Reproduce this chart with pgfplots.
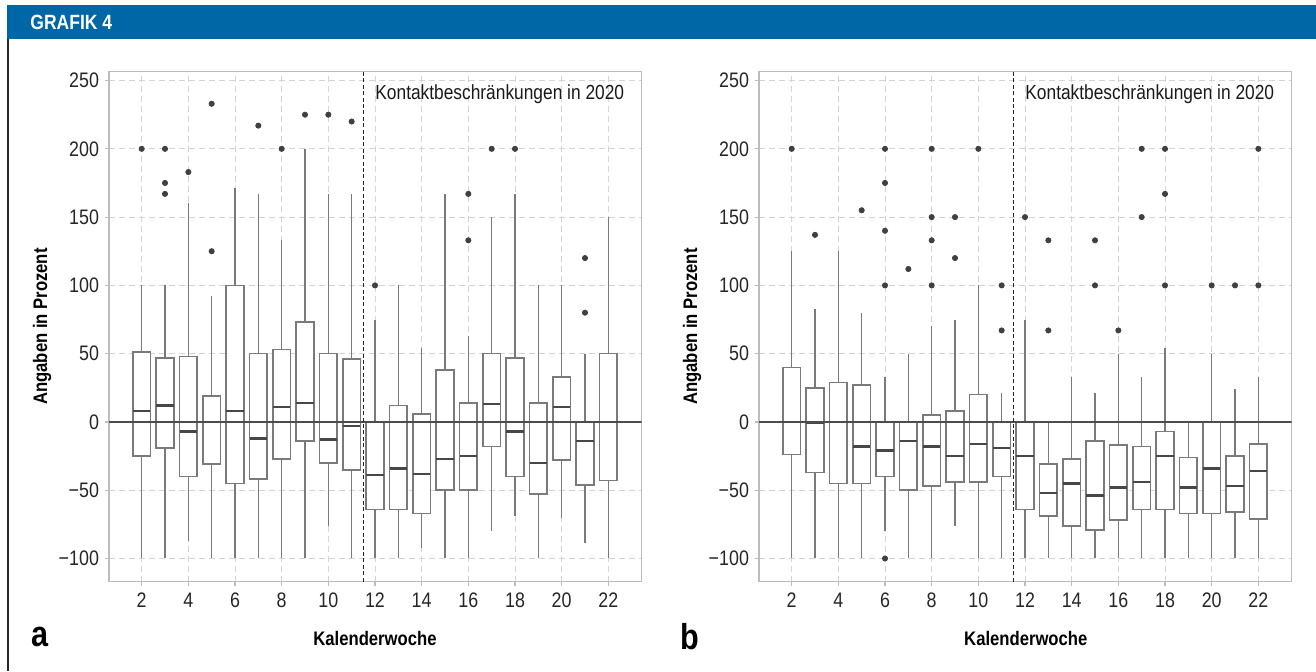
\documentclass[border=0pt]{standalone}
\usepackage{fontspec}
\setmainfont{Liberation Sans}[FakeStretch=0.85]
\usepackage{pgfplots}
\pgfplotsset{compat=1.18}
\usepgfplotslibrary{statistics}
\definecolor{bluebar}{HTML}{0067A7}
\definecolor{boxgray}{HTML}{7A7A7A}
\definecolor{gridgray}{HTML}{D4D4D4}
\definecolor{framegray}{HTML}{BDBDBD}
\definecolor{dotgray}{HTML}{404040}

% one box: position, lower whisker, lower quartile, median, upper quartile, upper whisker
\newcommand{\bx}[6]{\addplot[boxstyle, boxplot prepared={draw position=#1,
  lower whisker=#2, lower quartile=#3, median=#4, upper quartile=#5, upper whisker=#6}]
  coordinates {};}

\pgfplotsset{
  boxstyle/.style={boxgray, line width=0.8pt},
  panel/.style={
    scale only axis, width=266.35pt, height=255pt,
    xmin=0.6, xmax=23.43, ymin=-117, ymax=256.5,
    xtick={2,4,...,22}, ytick={-100,-50,...,250},
    yticklabels={−100,−50,0,50,100,150,200,250},
    /pgf/number format/assume math mode=true,
    tick align=outside, tick pos=left, major tick length=2pt,
    tick style={framegray, line width=0.6pt},
    axis line style={framegray, line width=0.7pt},
    grid=major, major grid style={gridgray, line width=0.5pt, dash pattern=on 3pt off 2pt},
    ticklabel style={font=\fontsize{10.5}{11}\selectfont, text=black!85},
    yticklabel style={xshift=0.5pt},
    boxplot/draw direction=y,
    boxplot/box extend=0.75, boxplot/whisker extend=0,
    boxplot/every box/.style={fill=white, draw=boxgray, line width=0.8pt},
    boxplot/every whisker/.style={boxgray, line width=0.8pt},
    boxplot/every median/.style={draw=black!72, line width=1.2pt},
  },
  outl/.style={only marks, mark=*, mark size=1.3pt, color=dotgray},
  zeroline/.style={black!70, line width=0.6pt},
  cutline/.style={black!85, line width=0.8pt, dash pattern=on 2pt off 1.2pt},
}

\begin{document}
\begin{tikzpicture}
\path (0,0) rectangle (658pt,335.5pt);
\fill[bluebar] (3.5pt,315.85pt) rectangle (658pt,333pt);
\node[anchor=west, text=white, font=\fontsize{10.3}{12}\selectfont\bfseries, inner sep=0pt]
  at (15pt,324.5pt) {GRAFIK 4};
\draw[black!85, line width=1pt] (3.95pt,0) -- (3.95pt,315.85pt);

% panel a
\begin{axis}[panel, at={(54.5pt,44.65pt)}, anchor=south west]
\bx{2}{-100}{-25}{8}{51}{100}
\bx{3}{-100}{-19}{12}{47}{100}
\bx{4}{-87}{-40}{-7}{48}{160}
\bx{5}{-100}{-31}{0}{19}{92}
\bx{6}{-100}{-45}{8}{100}{171}
\bx{7}{-100}{-42}{-12}{50}{167}
\bx{8}{-100}{-27}{11}{53}{133}
\bx{9}{-100}{-14}{14}{73}{200}
\bx{10}{-76}{-30}{-13}{50}{167}
\bx{11}{-100}{-35}{-3}{46}{167}
\bx{12}{-100}{-64}{-39}{0}{75}
\bx{13}{-100}{-64}{-34}{12}{100}
\bx{14}{-92}{-67}{-38}{6}{54}
\bx{15}{-100}{-50}{-27}{38}{167}
\bx{16}{-100}{-50}{-25}{14}{63}
\bx{17}{-80}{-18}{13}{50}{150}
\bx{18}{-69}{-40}{-7}{47}{167}
\bx{19}{-100}{-53}{-30}{14}{100}
\bx{20}{-70}{-28}{11}{33}{100}
\bx{21}{-89}{-46}{-14}{0}{50}
\bx{22}{-100}{-43}{0}{50}{150}
\addplot[outl] coordinates {(2,200) (3,200) (3,175) (3,167) (4,183) (5,233) (5,125)
  (7,217) (8,200) (9,225) (10,225) (11,220) (12,100) (16,167) (16,133) (17,200)
  (18,200) (21,120) (21,80)};
\addplot[zeroline] coordinates {(0.6,0) (23.43,0)};
\addplot[cutline] coordinates {(11.5,-117) (11.5,256.5)};
\node[anchor=west, inner sep=0pt, font=\fontsize{10.2}{12}\selectfont, text=black!90]
  at (axis cs:12.0,240) {Kontaktbeschränkungen in 2020};
\end{axis}

% panel b
\begin{axis}[panel, at={(379.5pt,44.65pt)}, anchor=south west]
\bx{2}{-100}{-24}{0}{40}{125}
\bx{3}{-100}{-37}{-1}{25}{83}
\bx{4}{-100}{-45}{0}{29}{125}
\bx{5}{-100}{-45}{-18}{27}{80}
\bx{6}{-80}{-40}{-21}{0}{33}
\bx{7}{-100}{-50}{-14}{0}{50}
\bx{8}{-100}{-47}{-18}{5}{70}
\bx{9}{-76}{-44}{-25}{8}{75}
\bx{10}{-100}{-44}{-16}{20}{100}
\bx{11}{-100}{-40}{-19}{0}{21}
\bx{12}{-100}{-64}{-25}{0}{75}
\bx{13}{-100}{-69}{-52}{-31}{0}
\bx{14}{-100}{-76}{-45}{-27}{33}
\bx{15}{-100}{-79}{-54}{-14}{21}
\bx{16}{-100}{-72}{-48}{-17}{50}
\bx{17}{-100}{-64}{-44}{-18}{33}
\bx{18}{-100}{-64}{-25}{-7}{54}
\bx{19}{-100}{-67}{-48}{-26}{0}
\bx{20}{-100}{-67}{-34}{0}{50}
\bx{21}{-100}{-66}{-47}{-25}{24}
\bx{22}{-100}{-71}{-36}{-16}{33}
\addplot[outl] coordinates {(2,200) (3,137) (5,155) (6,200) (6,175) (6,140) (6,100)
  (6,-100) (7,112) (8,200) (8,150) (8,133) (8,100) (9,150) (9,120) (10,200) (11,100)
  (11,67) (12,150) (13,133) (13,67) (15,133) (15,100) (16,67) (17,200) (17,150)
  (18,200) (18,167) (18,100) (20,100) (21,100) (22,200) (22,100)};
\addplot[zeroline] coordinates {(0.6,0) (23.43,0)};
\addplot[cutline] coordinates {(11.5,-117) (11.5,256.5)};
\node[anchor=west, inner sep=0pt, font=\fontsize{10.2}{12}\selectfont, text=black!90]
  at (axis cs:12.0,240) {Kontaktbeschränkungen in 2020};
\end{axis}

% axis titles and panel letters
\node[font=\fontsize{9.8}{11}\selectfont\bfseries] at (187.5pt,16pt) {Kalenderwoche};
\node[font=\fontsize{9.8}{11}\selectfont\bfseries] at (512.9pt,16pt) {Kalenderwoche};
\node[font=\fontsize{9.8}{11}\selectfont\bfseries, rotate=90] at (21pt,172.2pt) {Angaben in Prozent};
\node[font=\fontsize{9.8}{11}\selectfont\bfseries, rotate=90] at (346pt,172.2pt) {Angaben in Prozent};
\node[font=\fontsize{18}{18}\selectfont\bfseries] at (20pt,17pt) {a};
\node[font=\fontsize{18}{18}\selectfont\bfseries] at (345pt,17pt) {b};
\end{tikzpicture}
\end{document}
